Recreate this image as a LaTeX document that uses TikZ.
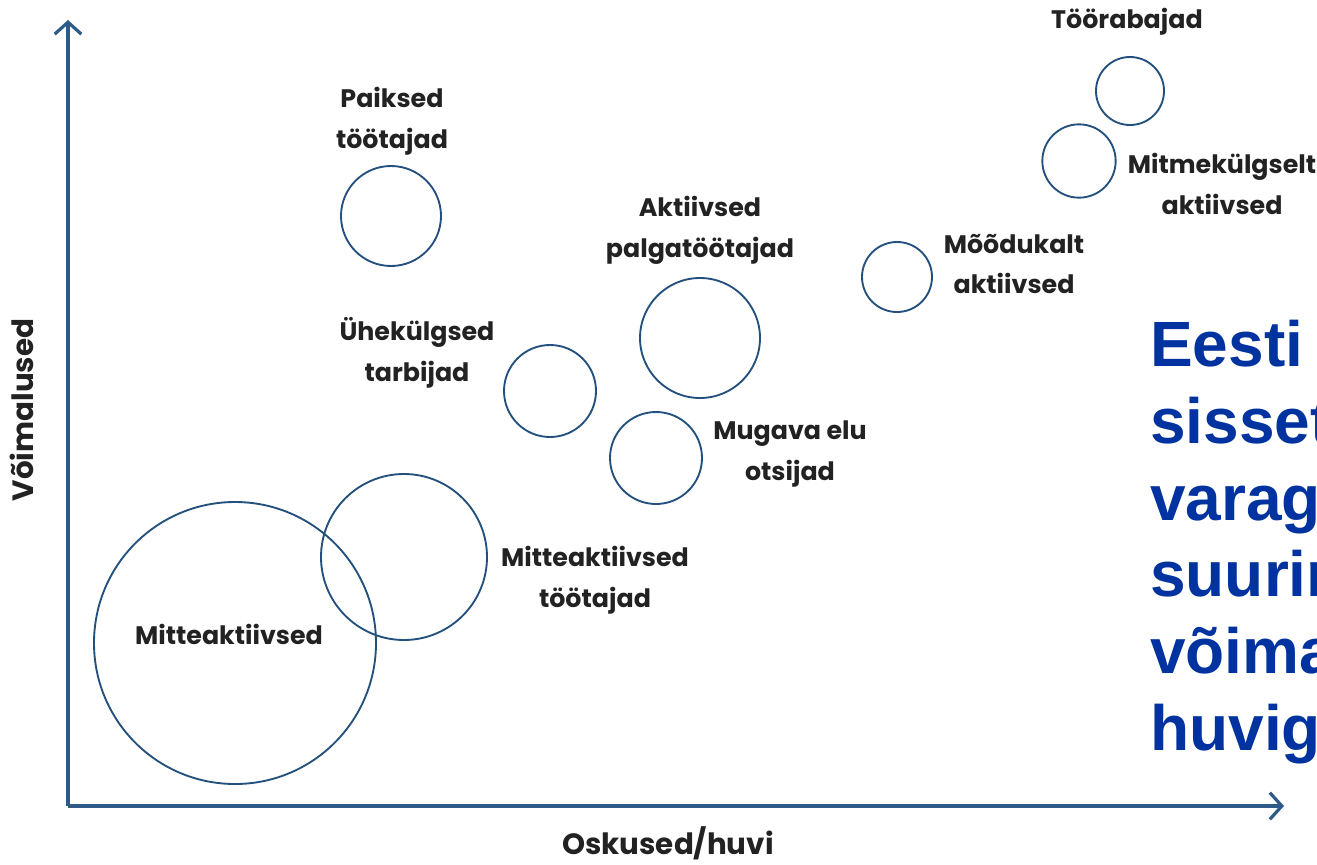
\documentclass[tikz,border=0pt]{standalone}
\usepackage{fontspec}
\setmainfont{Poppins}
\newfontfamily\bluefont{Liberation Sans}
\usetikzlibrary{arrows.meta}
\definecolor{axiscol}{HTML}{2E5A88}
\definecolor{circcol}{HTML}{24507E}
\definecolor{labcol}{HTML}{222222}
\definecolor{bluetxt}{HTML}{0033A0}
\tikzset{
  bub/.style={circle, draw=circcol, line width=1.4pt, inner sep=0pt},
  lab/.style={text=labcol, align=center, inner sep=0pt, font=\fontsize{19}{30.5}\selectfont\bfseries},
  axlab/.style={text=labcol, inner sep=0pt, font=\fontsize{22}{26}\selectfont\bfseries},
  axis/.style={draw=axiscol, line width=2.6pt, -{Straight Barb[length=9pt,width=20pt,line width=2.4pt]}},
  bigtxt/.style={text=bluetxt, anchor=west, align=left, inner sep=0pt, font=\fontsize{48}{57.5}\selectfont\bluefont\bfseries}
}
\begin{document}
\begin{tikzpicture}[x=0.75pt,y=-0.75pt]
\useasboundingbox (0,0) rectangle (1317,864);
\begin{scope}
\clip (0,0) rectangle (1317,864);
% axes
\coordinate (O) at (68,806);
\coordinate (Ytop) at (68,20);
\coordinate (Xend) at (1284,806);
\draw[axis] (O) -- (Ytop);
\draw[axis] (O) -- (Xend);
\node[axlab] (ylab) at (22,410) [rotate=90] {Võimalused};
\node[axlab] (xlab) at (668,843) {Oskused/huvi};
% bubbles
\node[bub, minimum size=211.5pt] (mitte) at (235,643) {};
\node[bub, minimum size=124.5pt] (mittet) at (404,557) {};
\node[bub, minimum size=75pt] (paik) at (391,216) {};
\node[bub, minimum size=69pt] (uhe) at (550,391) {};
\node[bub, minimum size=90pt] (akt) at (700,338) {};
\node[bub, minimum size=69pt] (mug) at (656,458) {};
\node[bub, minimum size=52.5pt] (mood) at (897,277) {};
\node[bub, minimum size=55pt] (mitm) at (1079,161) {};
\node[bub, minimum size=51pt] (toor) at (1130,91) {};
% labels
\node[lab] (lpaik) at (392,121) {Paiksed\\töötajad};
\node[lab] (lakt) at (700,230) {Aktiivsed\\palgatöötajad};
\node[lab] (luhe) at (417,353) {Ühekülgsed\\tarbijad};
\node[lab] (lmug) at (790,454) {Mugava elu\\otsijad};
\node[lab] (lmittet) at (595,580) {Mitteaktiivsed\\töötajad};
\node[lab] (lmitte) at (229,634) {Mitteaktiivsed};
\node[lab] (lmood) at (1014,264) {Mõõdukalt\\aktiivsed};
\node[lab] (ltoor) at (1127,22) {Töörabajad};
\node[lab] (lmitm) at (1222,184) {Mitmekülgselt\\aktiivsed};
% blue text (cut off at right edge, as in the reference)
\node[bigtxt] (blue) at (1150,542) {Eesti\\sissetu\\varaga\\suurim\\võimal\\huvigr};
\end{scope}
\end{tikzpicture}
\end{document}
